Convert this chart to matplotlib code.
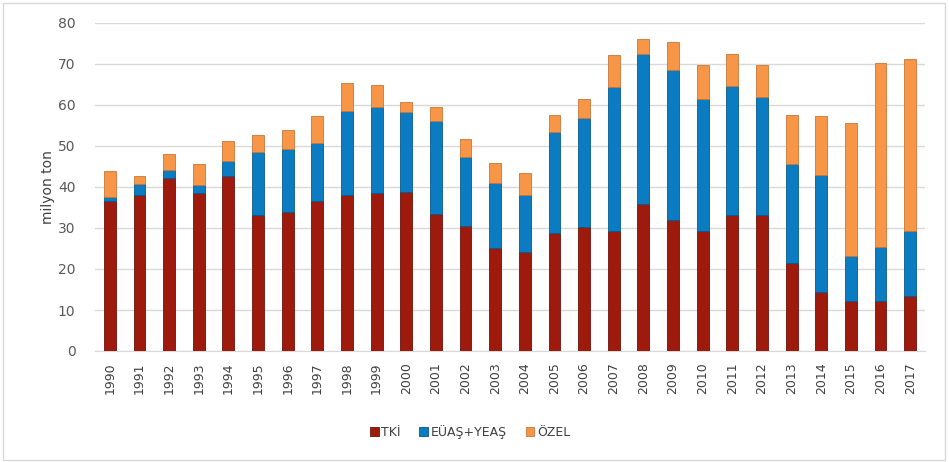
import matplotlib
import numpy as np

matplotlib.use("Agg")
import matplotlib.pyplot as plt
from matplotlib.patches import Rectangle

years = [str(y) for y in range(1990, 2018)]

# values (milyon ton)
tki = [36.6, 38.0, 42.3, 38.5, 42.8, 33.1, 33.9, 36.6, 38.0, 38.5,
       38.7, 33.4, 30.6, 25.2, 24.1, 28.7, 30.2, 29.3, 35.8, 32.0,
       29.3, 33.1, 33.1, 21.4, 14.4, 12.2, 12.2, 13.4]
euas_top = [37.6, 40.7, 44.1, 40.4, 46.3, 48.5, 49.3, 50.8, 58.5, 59.4,
            58.4, 56.1, 47.2, 41.0, 38.0, 53.5, 56.9, 64.4, 72.5, 68.5,
            61.4, 64.7, 62.0, 45.6, 42.9, 23.2, 25.4, 29.3]
total = [44.0, 42.8, 48.0, 45.5, 51.1, 52.6, 53.8, 57.2, 65.3, 64.8,
         60.7, 59.4, 51.6, 45.9, 43.3, 57.6, 61.4, 72.1, 76.2, 75.4,
         69.7, 72.4, 69.7, 57.5, 57.2, 55.5, 70.2, 71.2]

euas = list(np.array(euas_top) - np.array(tki))
ozel = list(np.array(total) - np.array(euas_top))

series_names = ["TKİ", "EÜAŞ+YEAŞ", "ÖZEL"]
colors = ["#9E1A0C", "#0C7CC2", "#F79646"]
edge_colors = ["#6E1208", "#075A8F", "#C8763A"]

fig = plt.figure(figsize=(9.49, 4.62), dpi=100)
ax = fig.add_axes([95 / 949, 1 - 351 / 462, 830 / 949, 328 / 462])

x = np.arange(len(years))
width = 0.40
bottom = np.zeros(len(years))
handles = []
for vals, name, col, ec in zip([tki, euas, ozel], series_names, colors, edge_colors):
    b = ax.bar(x, vals, width, bottom=bottom, color=col, edgecolor=ec,
               linewidth=0.6, label=name, zorder=3)
    handles.append(b)
    bottom = bottom + np.array(vals)

ax.set_xlim(-0.5, len(years) - 0.5)
ax.set_ylim(0, 80)
ax.set_yticks(range(0, 81, 10))
ax.set_xticks(x)
ax.set_xticklabels(years, rotation=90, fontsize=9, color="#404040")
ax.tick_params(axis="y", labelsize=10, colors="#595959", length=0, pad=14)
ax.tick_params(axis="x", length=0, pad=8)
ax.yaxis.grid(True, color="#D9D9D9", linewidth=1, zorder=0)
ax.set_axisbelow(True)
for s in ["top", "right", "left"]:
    ax.spines[s].set_visible(False)
ax.spines["bottom"].set_color("#D9D9D9")
ax.set_ylabel("milyon ton", fontsize=10, color="#404040", labelpad=2)

fig.legend(handles=handles, labels=series_names, loc="center",
           bbox_to_anchor=(470 / 949, 1 - 432 / 462), ncol=3, frameon=False,
           fontsize=9, handlelength=0.7, handleheight=0.7,
           handletextpad=0.2, columnspacing=1.5, labelcolor="#404040")

# outer chart frame
fig.patches.append(Rectangle((3 / 949, 2 / 462), 942 / 949, 457 / 462,
                             transform=fig.transFigure, fill=False,
                             edgecolor="#D9D9D9", linewidth=1))

fig.savefig("out.png", dpi=100)
